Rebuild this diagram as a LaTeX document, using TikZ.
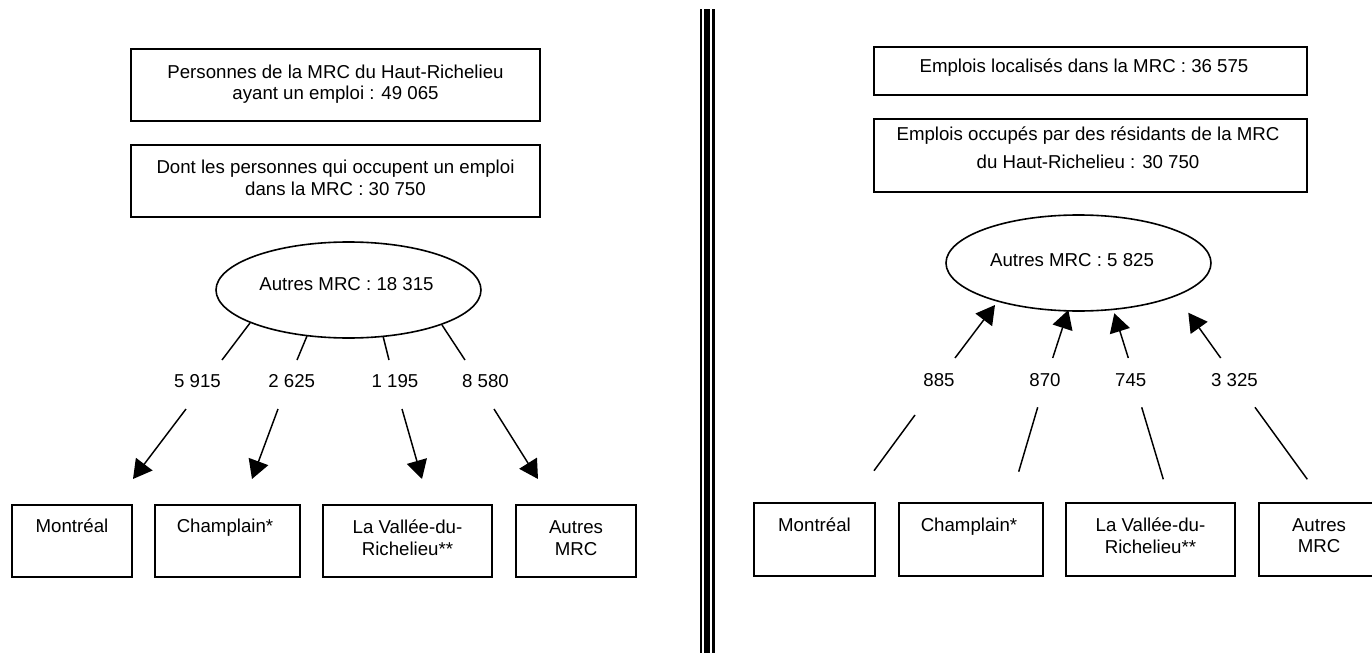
\documentclass[tikz,border=0pt]{standalone}
\usepackage{fontspec}
\setmainfont{Liberation Sans}
\usetikzlibrary{fit,shapes.geometric,arrows.meta}
\begin{document}
\begin{tikzpicture}[x=0.75pt,y=-0.75pt,
  box/.style={draw=black,line width=1.4pt,inner sep=0pt,outer sep=0pt,rectangle},
  oval/.style={draw=black,line width=1.2pt,ellipse,inner sep=0pt,minimum width=198.75pt,minimum height=72pt},
  txt/.style={font=\fontsize{14pt}{16pt}\selectfont,align=center,anchor=base,inner sep=0pt},
  num/.style={font=\fontsize{14pt}{16pt}\selectfont,anchor=base,inner sep=0pt},
  link/.style={line width=1.1pt},
  flow/.style={line width=1.1pt,-{Triangle[length=14pt,width=15.5pt]}}]
\useasboundingbox[fill=white] (0,0) rectangle (1372,653);

% ---------------- divider ----------------
\coordinate (d1t) at (701,9);   \coordinate (d1b) at (701,660);
\coordinate (d2t) at (707,9);   \coordinate (d2b) at (707,660);
\coordinate (d3t) at (713.5,9); \coordinate (d3b) at (713.5,660);
\draw[line width=1.9pt] (d1t) -- (d1b);
\draw[line width=3.9pt] (d2t) -- (d2b);
\draw[line width=1.9pt] (d3t) -- (d3b);

% ---------------- left part ----------------
\node[box,fit={(131,49) (540,121)}] (lb1) {};
\node[txt] (lt1) at (335.5,99) {Personnes de la MRC du Haut-Richelieu\\[-0.5pt]ayant un emploi : 49 065};
\node[box,fit={(131,145) (540,217)}] (lb2) {};
\node[txt] (lt2) at (335.5,195.7) {Dont les personnes qui occupent un emploi\\[0.5pt]dans la MRC : 30 750};

\node[oval] (le) at (348.5,290) {};
\node[num] (let) at (346.5,290) {Autres MRC : 18 315};

\node[num] (ln1) at (197.5,387.5) {5 915};
\node[num] (ln2) at (291.7,387.5) {2 625};
\node[num] (ln3) at (395,387.5) {1 195};
\node[num] (ln4) at (485.5,387.5) {8 580};

\coordinate (lu1a) at (250,323); \coordinate (lu1b) at (222,360);
\coordinate (lu2a) at (307,336); \coordinate (lu2b) at (297,360);
\coordinate (lu3a) at (383,336); \coordinate (lu3b) at (389,360);
\coordinate (lu4a) at (442,325); \coordinate (lu4b) at (465,360);
\draw[link] (lu1a) -- (lu1b);
\draw[link] (lu2a) -- (lu2b);
\draw[link] (lu3a) -- (lu3b);
\draw[link] (lu4a) -- (lu4b);

\coordinate (la1a) at (186,409); \coordinate (la1b) at (133,479);
\coordinate (la2a) at (278,409); \coordinate (la2b) at (252,479);
\coordinate (la3a) at (402,409); \coordinate (la3b) at (422,479);
\coordinate (la4a) at (494,409); \coordinate (la4b) at (538,479);
\draw[flow] (la1a) -- (la1b);
\draw[flow] (la2a) -- (la2b);
\draw[flow] (la3a) -- (la3b);
\draw[flow] (la4a) -- (la4b);

\node[box,fit={(12,505) (132,577)}] (lm) {};
\node[txt] (lmt) at (72,532) {Montréal};
\node[box,fit={(155,505) (300,577)}] (lc) {};
\node[txt] (lct) at (225,532) {Champlain*};
\node[box,fit={(323,505) (492,577)}] (lv) {};
\node[txt] (lvt) at (407.5,555) {La Vallée-du-\\Richelieu**};
\node[box,fit={(516,505) (636,577)}] (la) {};
\node[txt] (lat) at (576,555) {Autres\\MRC};

% ---------------- right part ----------------
\node[box,fit={(874,47) (1307,95)}] (rb1) {};
\node[txt] (rt1) at (1084,72.7) {Emplois localisés dans la MRC : 36 575};
\node[box,fit={(874,119) (1307,192)}] (rb2) {};
\node[txt] (rt2) at (1088,168) {Emplois occupés par des résidants de la MRC\\[5pt]du Haut-Richelieu : 30 750};

\node[oval] (re) at (1078.5,263) {};
\node[num] (ret) at (1072,266) {Autres MRC : 5 825};

\node[num] (rn1) at (939,386.7) {885};
\node[num] (rn2) at (1045,386.7) {870};
\node[num] (rn3) at (1130.7,386.7) {745};
\node[num] (rn4) at (1234.5,386.7) {3 325};

\coordinate (ra1a) at (955,358);    \coordinate (ra1b) at (995,305);
\coordinate (ra2a) at (1052.7,358); \coordinate (ra2b) at (1068.3,310);
\coordinate (ra3a) at (1128.3,358); \coordinate (ra3b) at (1114.3,313.3);
\coordinate (ra4a) at (1220.7,358); \coordinate (ra4b) at (1188.3,312.7);
\draw[flow] (ra1a) -- (ra1b);
\draw[flow] (ra2a) -- (ra2b);
\draw[flow] (ra3a) -- (ra3b);
\draw[flow] (ra4a) -- (ra4b);

\coordinate (rl1a) at (915,415);      \coordinate (rl1b) at (874,470.7);
\coordinate (rl2a) at (1037.7,407.3); \coordinate (rl2b) at (1018.7,471.7);
\coordinate (rl3a) at (1141.7,407.3); \coordinate (rl3b) at (1163.3,479.3);
\coordinate (rl4a) at (1255,407.3);   \coordinate (rl4b) at (1307.3,479.3);
\draw[link] (rl1a) -- (rl1b);
\draw[link] (rl2a) -- (rl2b);
\draw[link] (rl3a) -- (rl3b);
\draw[link] (rl4a) -- (rl4b);

\node[box,fit={(754,503) (875,576)}] (rm) {};
\node[txt] (rmt) at (814.5,531.7) {Montréal};
\node[box,fit={(899,503) (1043,576)}] (rc) {};
\node[txt] (rct) at (969,531.7) {Champlain*};
\node[box,fit={(1066,503) (1235,576)}] (rv) {};
\node[txt] (rvt) at (1150.5,553) {La Vallée-du-\\Richelieu**};
\node[box,fit={(1259,503) (1379,576)}] (ra) {};
\node[txt] (rat) at (1319,552.7) {Autres\\MRC};
\end{tikzpicture}
\end{document}
